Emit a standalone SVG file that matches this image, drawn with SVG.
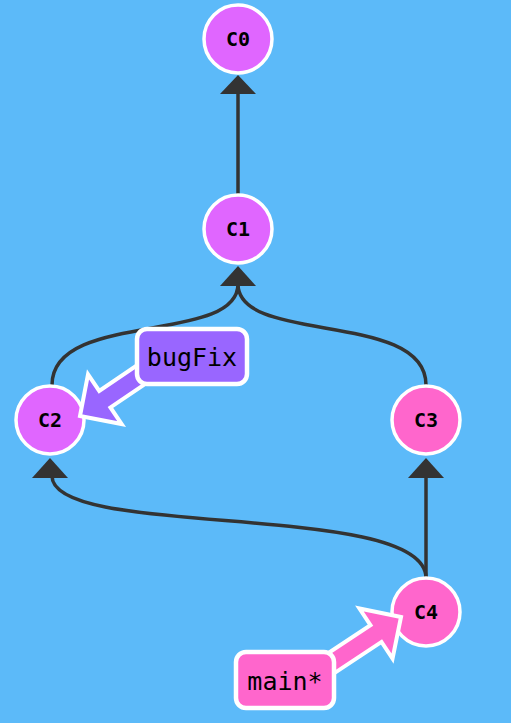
<svg xmlns="http://www.w3.org/2000/svg" width="511" height="723" viewBox="0 0 511 723">
<style>
.edge{fill:none;stroke:#333;stroke-width:3.5}
.head{fill:#333}
.commit circle{stroke:#fff;stroke-width:3.5}
.violet{fill:#e066ff}
.pink{fill:#ff66cc}
.commit text{font-family:"DejaVu Sans Mono",monospace;font-weight:bold;font-size:20px;fill:#000;text-anchor:middle;dominant-baseline:central}
.branch rect{stroke:#fff;stroke-width:4.5}
.branch text{font-family:"DejaVu Sans Mono",monospace;font-size:25px;fill:#000;text-anchor:middle;dominant-baseline:central}
.arr{stroke:#fff;stroke-width:4;stroke-linejoin:miter}
</style>
<rect width="511" height="723" fill="#5cbaf9"/>
<g id="connectors">
<path class="edge" d="M238,194 L238,92"/>
<path class="head" d="M238,75 L256,94 L220,94 Z"/>
<path class="edge" d="M52,385 C52,310 238,345 238,284"/>
<path class="edge" d="M426,385 C426,310 238,345 238,284"/>
<path class="head" d="M238,266 L256,286 L220,286 Z"/>
<path class="edge" d="M426,578 C426,500 52,540 52,476"/>
<path class="edge" d="M426,578 L426,476"/>
<path class="head" d="M50,458 L68,478 L32,478 Z"/>
<path class="head" d="M426,458 L444,478 L408,478 Z"/>
</g>
<g id="C0" class="commit"><circle class="violet" cx="238" cy="39" r="34"/><text x="238" y="39">C0</text></g>
<g id="C1" class="commit"><circle class="violet" cx="238" cy="229" r="34"/><text x="238" y="229">C1</text></g>
<g id="C2" class="commit"><circle class="violet" cx="50" cy="420" r="34"/><text x="50" y="420">C2</text></g>
<g id="C3" class="commit"><circle class="pink" cx="426" cy="420" r="34"/><text x="426" y="420">C3</text></g>
<g id="C4" class="commit"><circle class="pink" cx="426" cy="612" r="34"/><text x="426" y="612">C4</text></g>
<g id="bugFix" class="branch">
<polygon class="arr" fill="#9966ff" transform="translate(80,416) rotate(145.9)" points="0,0 -30,-30 -30,-10 -105,-10 -105,10 -30,10 -30,30"/>
<rect x="137" y="329" width="110" height="55" rx="10" fill="#9966ff"/>
<text x="192" y="357">bugFix</text>
</g>
<g id="main" class="branch">
<polygon class="arr" fill="#ff66cc" transform="translate(401,617) rotate(-33.5)" points="0,0 -30,-30 -30,-10 -125,-10 -125,10 -30,10 -30,30"/>
<rect x="236" y="652" width="98" height="56" rx="10" fill="#ff66cc"/>
<text x="285" y="681">main*</text>
</g>
</svg>
